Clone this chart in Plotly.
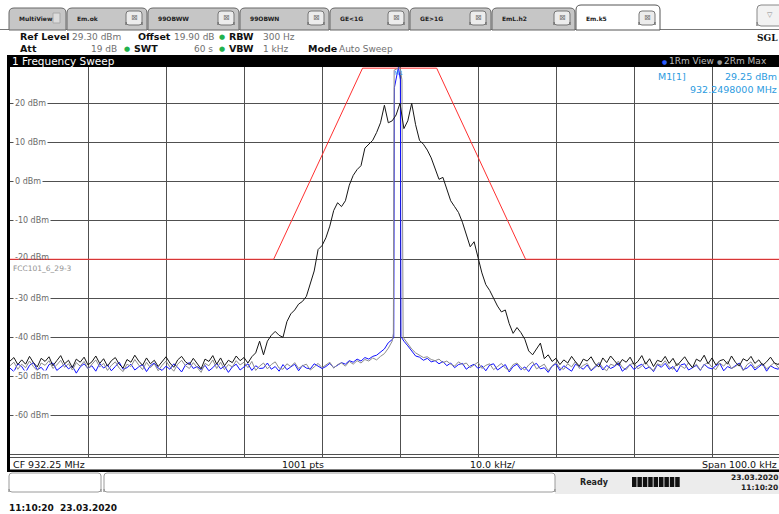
import numpy as np
import plotly.graph_objects as go

W, H = 779, 514

# ---------------- data ----------------
CF_MHZ = 932.25
SPAN_KHZ = 100.0
REF_LEVEL = 29.3
N_PTS = 201
freq_khz = np.linspace(-SPAN_KHZ / 2, SPAN_KHZ / 2, N_PTS)   # offset from CF

# trace 3 (black, broad modulated spectrum) on the full grid
black_levels = [
    -46.1, -45.2, -47.0, -45.8, -46.9, -44.9, -46.5, -47.6, -45.4, -46.2,
    -45.0, -47.3, -46.0, -44.7, -46.8, -45.9, -47.8, -45.6, -46.4, -45.1,
    -47.1, -46.3, -44.8, -46.7, -45.5, -47.4, -46.0, -45.2, -46.9, -47.9,
    -45.7, -46.4, -44.6, -46.1, -47.2, -45.3, -46.8, -45.9, -47.5, -46.2,
    -45.0, -46.6, -47.7, -45.8, -44.9, -46.3, -47.0, -45.4, -46.7, -48.1,
    -45.6, -46.2, -44.7, -46.9, -45.3, -47.3, -45.9, -46.5, -44.8, -46.0,
    -45.2, -46.6, -45.0, -44.0, -41.0, -44.5, -41.0, -39.5, -38.5, -39.5,
    -40.0, -36.0, -34.0, -33.0, -31.5, -30.8, -29.5, -26.5, -23.0, -17.5,
    -16.5, -14.5, -11.5, -7.5, -5.5, -6.5, -5.0, -1.0, 1.5, 3.0,
    4.0, 8.5, 9.5, 10.5, 12.5, 15.0, 19.5, 15.0, 15.5, 17.0,
    20.0, 13.5, 15.5, 20.0, 14.5, 10.5, 9.5, 8.0, 6.0, 3.5,
    0.5, 1.0, -2.0, -5.0, -6.5, -8.0, -10.5, -14.0, -16.8, -15.5,
    -19.5, -23.5, -26.5, -28.0, -30.0, -32.0, -33.5, -33.0, -36.5, -39.0,
    -37.5, -38.8, -40.5, -43.5, -44.5, -43.0, -41.5, -45.5, -44.5, -46.2,
    -45.4, -47.0, -45.8, -46.6, -44.9, -46.3, -47.4, -45.6, -46.1, -45.0,
    -46.8, -47.6, -45.3, -46.5, -44.8, -46.0, -47.2, -45.7, -46.4, -45.1,
    -47.0, -46.2, -44.7, -46.9, -45.5, -47.5, -45.9, -46.3, -44.9, -46.7,
    -45.4, -47.3, -46.1, -45.0, -46.6, -47.8, -45.6, -46.2, -44.6, -46.8,
    -45.3, -47.1, -46.0, -45.7, -46.9, -44.8, -46.4, -47.4, -45.5, -46.1,
    -44.9, -46.7, -45.8, -47.2, -46.3, -45.1, -46.6, -47.0, -45.4, -46.2,
    -45.8,
]

# trace 2 (gray, Max) : grid points |f| >= 1 kHz plus carrier detail
gray_left = [
    -47.3, -46.4, -48.2, -46.9, -47.8, -46.1, -47.5, -48.6, -46.6, -47.2,
    -46.0, -48.0, -47.1, -45.9, -47.7, -46.8, -48.4, -46.5, -47.4, -46.2,
    -48.1, -47.0, -45.8, -47.6, -46.7, -48.5, -47.2, -46.3, -47.9, -48.8,
    -46.9, -47.5, -45.7, -47.1, -48.3, -46.4, -47.8, -46.8, -48.6, -47.2,
    -46.1, -47.6, -48.7, -46.9, -45.9, -47.3, -48.0, -46.5, -47.7, -49.0,
    -46.7, -47.3, -45.8, -48.0, -46.4, -48.3, -47.0, -47.6, -46.0, -47.1,
    -46.4, -47.8, -46.2, -48.5, -47.4, -46.6, -48.1, -47.0, -46.3, -47.9,
    -48.2, -46.8, -47.5, -46.5, -48.0, -47.3, -46.9, -48.4, -47.6, -46.7,
    -47.8, -47.2, -46.4, -47.9, -47.0, -46.6, -47.4, -46.2, -46.9, -46.0,
    -46.6, -45.7, -46.1, -45.3, -45.8, -44.9, -44.2, -42.8, -41.0,
]
gray_carrier_khz = [-0.85, -0.75, 0.0, 0.25, 0.4, 0.7]
gray_carrier_levels = [-39.0, 28.5, 29.2, 26.0, -40.0, -40.8]
gray_right = [
    -41.6, -43.0, -44.0, -44.6, -45.2, -45.0, -45.7, -46.0,
    -45.6, -46.5, -46.1, -46.9, -47.4, -46.3, -47.0, -46.6, -47.8, -47.1,
    -46.4, -48.0, -47.2, -46.8, -48.3, -47.5, -46.7, -47.9, -48.5, -47.0,
    -46.6, -47.7, -48.4, -47.1, -46.3, -48.1, -47.4, -46.9, -48.6, -47.3,
    -46.5, -47.9, -48.2, -46.8, -47.6, -46.2, -48.0, -47.2, -46.7, -48.4,
    -47.5, -46.4, -47.8, -48.6, -46.9, -47.3, -46.1, -47.7, -48.3, -47.0,
    -46.6, -48.1, -47.4, -46.3, -47.9, -48.5, -46.8, -47.2, -46.0, -47.6,
    -48.2, -46.7, -47.3, -48.0, -46.5, -47.8, -46.9, -48.4, -47.1, -46.4,
    -47.7, -48.3, -46.6, -47.4, -46.2, -48.0, -47.5, -46.8, -48.6, -47.0,
    -46.3, -47.9, -47.2, -46.7, -48.1, -47.4, -46.5, -47.8, -46.9, -47.3,
    -47.6,
]

# trace 1 (blue, View)
blue_left = [
    -47.9, -48.8, -46.8, -47.5, -49.0, -47.2, -46.5, -48.3, -47.7, -48.9,
    -47.0, -46.6, -48.5, -47.8, -46.9, -48.1, -47.4, -49.2, -47.6, -46.8,
    -48.0, -47.3, -48.7, -46.7, -47.9, -47.1, -48.6, -47.5, -46.4, -48.2,
    -47.8, -46.9, -48.4, -47.6, -47.0, -48.8, -47.3, -46.6, -47.9, -48.5,
    -47.4, -48.2, -46.8, -47.7, -48.9, -47.1, -46.5, -48.0, -47.5, -48.3,
    -47.2, -48.6, -47.8, -46.7, -48.1, -47.4, -49.0, -47.6, -46.9, -48.4,
    -47.7, -46.8, -48.5, -47.3, -48.0, -47.9, -46.6, -48.2, -47.5, -48.7,
    -47.0, -48.3, -47.6, -46.9, -48.6, -47.2, -47.9, -48.1, -46.8, -47.4,
    -48.0, -47.5, -46.7, -47.8, -47.1, -46.5, -46.9, -46.0, -46.4, -45.6,
    -46.1, -45.2, -45.6, -44.9, -44.6, -43.8, -43.0, -41.4, -40.6,
]
blue_carrier_khz = [-0.8, -0.72, -0.2, 0.05, 0.12, 0.5]
blue_carrier_levels = [-40.0, 24.0, 29.25, 26.0, -39.8, -41.0]
blue_right = [
    -42.2, -43.6, -44.8, -45.1, -45.9, -45.4, -46.3, -46.0,
    -46.8, -46.2, -47.3, -46.6, -47.8, -47.0, -46.7, -48.2, -47.4, -46.9,
    -48.0, -47.3, -48.6, -47.1, -46.8, -48.4, -47.7, -47.0, -48.9, -47.5,
    -46.9, -48.3, -47.6, -48.8, -47.2, -46.7, -48.1, -47.8, -49.0, -47.4,
    -46.8, -48.5, -47.3, -47.9, -48.7, -46.9, -47.6, -48.2, -47.1, -48.6,
    -47.7, -46.8, -48.4, -47.2, -48.0, -47.5, -46.6, -48.7, -47.9, -47.0,
    -48.3, -47.4, -46.9, -48.1, -47.6, -48.8, -47.0, -47.7, -46.7, -48.2,
    -47.5, -48.9, -47.1, -46.8, -48.4, -47.7, -47.2, -48.5, -46.9, -47.8,
    -48.1, -47.3, -46.7, -48.6, -47.5, -48.0, -47.2, -46.6, -48.3, -47.9,
    -47.0, -48.4, -47.6, -46.8, -48.7, -47.3, -47.9, -48.2, -46.9, -47.5,
    -48.0,
]

# limit line FCC101_6_29-3
mask_khz = [-50.0, -16.2, -4.8, 4.7, 16.1, 50.0]
mask_levels = [-20.0, -20.0, 29.0, 29.0, -20.0, -20.0]

ytick_vals = [20, 10, 0, -10, -20, -30, -40, -50, -60]
marker_khz = -0.2
marker_level = 29.25

# ---------------- helpers ----------------
def X(px):
    return px / W

def Y(py):
    return 1 - py / H

shapes = []
annotations = []

def rect(x0, y0, x1, y1, fill, line=None, lw=0, layer="above"):
    shapes.append(dict(type="rect", xref="paper", yref="paper",
                       x0=X(x0), x1=X(x1), y0=Y(y1), y1=Y(y0),
                       fillcolor=fill, line=dict(color=line or fill, width=lw),
                       layer=layer))

def hline(x0, x1, y, color, lw=1):
    shapes.append(dict(type="line", xref="paper", yref="paper",
                       x0=X(x0), x1=X(x1), y0=Y(y), y1=Y(y),
                       line=dict(color=color, width=lw), layer="above"))

def rpath(x0, y0, x1, y1, r, fill, line, lw=1, open_bottom=True):
    p = (f"M {X(x0)},{Y(y1)} L {X(x0)},{Y(y0 + r)} Q {X(x0)},{Y(y0)} {X(x0 + r)},{Y(y0)} "
         f"L {X(x1 - r)},{Y(y0)} Q {X(x1)},{Y(y0)} {X(x1)},{Y(y0 + r)} L {X(x1)},{Y(y1)}")
    if not open_bottom:
        p += (f" L {X(x1)},{Y(y1 - r)} Q {X(x1)},{Y(y1)} {X(x1 - r)},{Y(y1)} "
              f"L {X(x0 + r)},{Y(y1)} Q {X(x0)},{Y(y1)} {X(x0)},{Y(y1 - r)} Z")
    else:
        p += " Z"
    shapes.append(dict(type="path", xref="paper", yref="paper", path=p,
                       fillcolor=fill, line=dict(color=line, width=lw), layer="above"))

def text(x, y, s, size=10, color="#000", bold=False, xanchor="left",
         family="DejaVu Sans", bg=None):
    if bold:
        s = f"<b>{s}</b>"
    a = dict(x=X(x), y=Y(y), xref="paper", yref="paper", text=s, showarrow=False,
             xanchor=xanchor, yanchor="middle",
             font=dict(size=size, color=color, family=family), borderpad=0)
    if bg:
        a["bgcolor"] = bg
    annotations.append(a)

# ---------------- figure ----------------
fig = go.Figure()

narrow_f_left = list(freq_khz[:99])
narrow_f_right = list(freq_khz[102:])

fig.add_trace(go.Scatter(
    x=mask_khz, y=mask_levels, mode="lines",
    line=dict(color="#ff3030", width=1), hoverinfo="skip"))
fig.add_trace(go.Scatter(
    x=narrow_f_left + blue_carrier_khz + narrow_f_right,
    y=blue_left + blue_carrier_levels + blue_right, mode="lines",
    line=dict(color="#1010ff", width=1), hoverinfo="skip"))
fig.add_trace(go.Scatter(
    x=narrow_f_left + gray_carrier_khz + narrow_f_right,
    y=gray_left + gray_carrier_levels + gray_right, mode="lines",
    line=dict(color="#8c8c8c", width=1), hoverinfo="skip"))
fig.add_trace(go.Scatter(
    x=freq_khz, y=black_levels, mode="lines",
    line=dict(color="#161616", width=1), hoverinfo="skip"))

x_left_px, x_div_px = 10, 78.0
x_range = [-SPAN_KHZ / 2, -SPAN_KHZ / 2 + (W - x_left_px) / x_div_px * 10]
plot_top, plot_bot = 67, 457
y_range = [REF_LEVEL - 100, REF_LEVEL]

fig.update_layout(
    width=W, height=H, autosize=False,
    margin=dict(l=0, r=0, t=0, b=0),
    paper_bgcolor="white", plot_bgcolor="white",
    showlegend=False,
    xaxis=dict(domain=[X(x_left_px), 1], range=x_range, showgrid=True,
               gridcolor="#505050", gridwidth=1, tick0=0, dtick=10,
               showticklabels=False, zeroline=False, showline=False, ticks=""),
    yaxis=dict(domain=[Y(plot_bot), Y(plot_top)], range=y_range, showgrid=True,
               gridcolor="#505050", gridwidth=1, tick0=0, dtick=10,
               showticklabels=False, zeroline=False, showline=False, ticks=""),
)

# y tick labels drawn inside the diagram
for v in ytick_vals:
    annotations.append(dict(x=X(13), y=v, xref="paper", yref="y",
                            text=f"{v} dBm", showarrow=False, xanchor="left",
                            yanchor="middle", bgcolor=None if v == -20 else "white",
                            borderpad=1, yshift=2 if v == -20 else 0,
                            font=dict(size=8, color="#6a6a6a", family="DejaVu Sans")))
annotations.append(dict(x=X(11), y=mask_levels[0], xref="paper", yref="y",
                        text="FCC101_6_29-3", showarrow=False, xanchor="left",
                        yanchor="top", yshift=-3,
                        font=dict(size=7.5, color="#909090", family="DejaVu Sans")))
annotations.append(dict(x=marker_khz, y=marker_level, xref="x", yref="y",
                        text="M1", showarrow=False, xanchor="center", yanchor="top",
                        font=dict(size=6, color="#3a8ff0", family="DejaVu Sans")))

# ---- tabs ----
tabs = [("MultiView", 9, 66, False), ("Em.ok", 67, 147, False),
        ("99OBWW", 148, 239, False), ("99OBWN", 240, 329, False),
        ("GE&lt;1G", 330, 409, False), ("GE&gt;1G", 410, 491, False),
        ("EmL.h2", 492, 575, False), ("Em.k5", 576, 660, True)]
hline(0, 779, 29.5, "#777", 1)
for label, x0, x1, active in tabs:
    if active:
        rpath(x0, 5, x1, 30, 5, "white", "#555", 1)
    else:
        rpath(x0, 8, x1, 30, 5, "#c6c6c6", "#666", 1)
    text(x0 + 9, 18.5, label, size=6, color="#222", bold=True)
    if label == "MultiView":
        rect(x1 - 13, 13, x1 - 6, 23, "#dcdcdc", "#aaa", 1)
    else:
        rpath(x1 - 21, 11, x1 - 5, 25, 3, "#ececec", "#777", 1, open_bottom=False)
        text(x1 - 13, 18, "⊠", size=8, color="#777", xanchor="center")
rpath(757, 5, 790, 26, 4, "#f2f2f2", "#888", 1, open_bottom=False)
text(770, 15, "▽", size=7, color="#888", xanchor="center")
text(779, 38, "SGL", size=9, color="#111", bold=True, xanchor="right",
     family="DejaVu Serif")

# ---- header settings ----
g = "#22b14c"
vc = "#707070"
text(19, 37, "Ref Level", 9.5, "#111", True)
text(71, 37, "29.30 dBm", 9, vc)
text(137, 37, "Offset", 9.5, "#111", True)
text(173, 37, "19.90 dB", 9, vc)
text(222, 37, "●", 7, g, xanchor="center")
text(228, 37, "RBW", 9.5, "#111", True)
text(262, 37, "300 Hz", 9, vc)
text(19, 48.5, "Att", 9.5, "#111", True)
text(118, 48.5, "19 dB", 9, vc, xanchor="right")
text(127, 48.5, "●", 7, g, xanchor="center")
text(133, 48.5, "SWT", 9.5, "#111", True)
text(214, 48.5, "60 s", 9, vc, xanchor="right")
text(222, 48.5, "●", 7, g, xanchor="center")
text(228, 48.5, "VBW", 9.5, "#111", True)
text(290, 48.5, "1 kHz", 9, vc, xanchor="right")
text(307, 48.5, "Mode", 9.5, "#111", True)
text(338, 48.5, "Auto Sweep", 9, vc)

# ---- diagram frame ----
rect(7, 55, 779, 67, "black")
text(11, 61, "1 Frequency Sweep", 10.5, "white")
text(664, 61, "●", 6, "#2a5cff", xanchor="center")
text(668, 61, "1Rm View", 9, "#bdbdbd")
text(719, 61, "●", 6, "#9a9a9a", xanchor="center")
text(723, 61, "2Rm Max", 9, "#bdbdbd")
rect(7, 55, 10, 472, "black")
hline(10, 779, 457.5, "#505050", 1)
rect(7, 469.5, 779, 472, "black")
text(12, 464, "CF 932.25 MHz", 9.5, "#111")
text(303, 464, "1001 pts", 9.5, "#111", xanchor="center")
text(493, 464, "10.0 kHz/", 9.5, "#111", xanchor="center")
text(778, 464, "Span 100.0 kHz", 9.5, "#111", xanchor="right")

# marker readout
mc = "#2c9be0"
text(657, 76, "M1[1]", 9.5, mc)
text(778, 76, "29.25 dBm", 9.5, mc, xanchor="right")
text(778, 89, "932.2498000 MHz", 9.5, mc, xanchor="right")

# ---- status bar ----
rect(555, 472, 779, 494, "#ececec")
rpath(9, 473, 101, 492, 3, "white", "#9a9a9a", 1, open_bottom=False)
rpath(104, 473, 555, 492, 3, "white", "#9a9a9a", 1, open_bottom=False)
text(594, 482.5, "Ready", 8, "#222", True, xanchor="center")
for k in range(9):
    rect(632 + k * 5.4, 477, 636.5 + k * 5.4, 487, "#111")
text(779, 477.5, "23.03.2020", 7.5, "#222", True, xanchor="right")
text(779, 487.5, "11:10:20", 7.5, "#222", True, xanchor="right")
text(8, 508, "11:10:20&nbsp;&nbsp;23.03.2020", 9, "#111", True)

fig.update_layout(shapes=shapes, annotations=annotations)
fig.write_html("out.html")
